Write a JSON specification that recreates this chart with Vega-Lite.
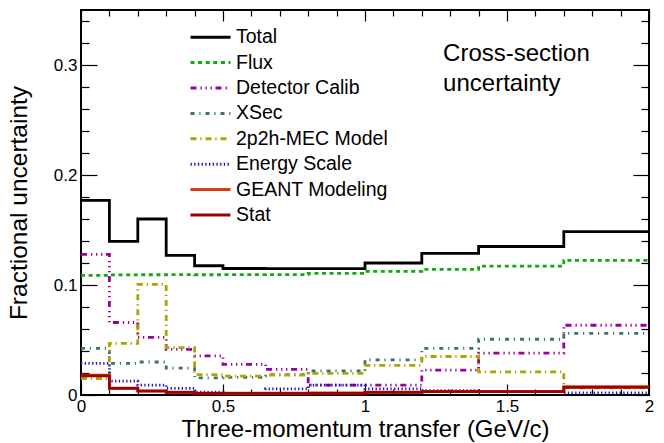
{
  "$schema": "https://vega.github.io/schema/vega-lite/v6.json",
  "width": 568,
  "height": 385,
  "autosize": "none",
  "padding": {"left": 81, "top": 10, "right": 15, "bottom": 48},
  "background": "white",
  "config": {
    "font": "Liberation Sans",
    "view": {"stroke": "black", "strokeWidth": 2},
    "axis": {"grid": false, "domain": false, "tickColor": "black", "tickWidth": 1.2, "labelColor": "black", "titleColor": "black", "labelFont": "Liberation Sans", "titleFont": "Liberation Sans", "titleFontWeight": "normal", "labelFlush": false, "labelOverlap": false}
  },
  "datasets": {
    "unc": [
      {"series": "Total", "lo": 0.0, "hi": 0.1, "v": 0.177},
      {"series": "Total", "lo": 0.1, "hi": 0.2, "v": 0.1396},
      {"series": "Total", "lo": 0.2, "hi": 0.3, "v": 0.160},
      {"series": "Total", "lo": 0.3, "hi": 0.4, "v": 0.127},
      {"series": "Total", "lo": 0.4, "hi": 0.5, "v": 0.1175},
      {"series": "Total", "lo": 0.5, "hi": 0.65, "v": 0.115},
      {"series": "Total", "lo": 0.65, "hi": 0.8, "v": 0.1148},
      {"series": "Total", "lo": 0.8, "hi": 1.0, "v": 0.1148},
      {"series": "Total", "lo": 1.0, "hi": 1.2, "v": 0.120},
      {"series": "Total", "lo": 1.2, "hi": 1.4, "v": 0.1287},
      {"series": "Total", "lo": 1.4, "hi": 1.7, "v": 0.135},
      {"series": "Total", "lo": 1.7, "hi": 2.0, "v": 0.1486},
      {"series": "Flux", "lo": 0.0, "hi": 0.1, "v": 0.1088},
      {"series": "Flux", "lo": 0.1, "hi": 0.2, "v": 0.1092},
      {"series": "Flux", "lo": 0.2, "hi": 0.3, "v": 0.1093},
      {"series": "Flux", "lo": 0.3, "hi": 0.4, "v": 0.1094},
      {"series": "Flux", "lo": 0.4, "hi": 0.5, "v": 0.1093},
      {"series": "Flux", "lo": 0.5, "hi": 0.65, "v": 0.1094},
      {"series": "Flux", "lo": 0.65, "hi": 0.8, "v": 0.1095},
      {"series": "Flux", "lo": 0.8, "hi": 1.0, "v": 0.1106},
      {"series": "Flux", "lo": 1.0, "hi": 1.2, "v": 0.1124},
      {"series": "Flux", "lo": 1.2, "hi": 1.4, "v": 0.1142},
      {"series": "Flux", "lo": 1.4, "hi": 1.7, "v": 0.1172},
      {"series": "Flux", "lo": 1.7, "hi": 2.0, "v": 0.1224},
      {"series": "Detector Calib", "lo": 0.0, "hi": 0.1, "v": 0.1278},
      {"series": "Detector Calib", "lo": 0.1, "hi": 0.2, "v": 0.0659},
      {"series": "Detector Calib", "lo": 0.2, "hi": 0.3, "v": 0.0523},
      {"series": "Detector Calib", "lo": 0.3, "hi": 0.4, "v": 0.0415},
      {"series": "Detector Calib", "lo": 0.4, "hi": 0.5, "v": 0.0356},
      {"series": "Detector Calib", "lo": 0.5, "hi": 0.65, "v": 0.0278},
      {"series": "Detector Calib", "lo": 0.65, "hi": 0.8, "v": 0.0233},
      {"series": "Detector Calib", "lo": 0.8, "hi": 1.0, "v": 0.009},
      {"series": "Detector Calib", "lo": 1.0, "hi": 1.2, "v": 0.009},
      {"series": "Detector Calib", "lo": 1.2, "hi": 1.4, "v": 0.0227},
      {"series": "Detector Calib", "lo": 1.4, "hi": 1.7, "v": 0.038},
      {"series": "Detector Calib", "lo": 1.7, "hi": 2.0, "v": 0.0634},
      {"series": "XSec", "lo": 0.0, "hi": 0.1, "v": 0.0424},
      {"series": "XSec", "lo": 0.1, "hi": 0.2, "v": 0.0288},
      {"series": "XSec", "lo": 0.2, "hi": 0.3, "v": 0.030},
      {"series": "XSec", "lo": 0.3, "hi": 0.4, "v": 0.0245},
      {"series": "XSec", "lo": 0.4, "hi": 0.5, "v": 0.0155},
      {"series": "XSec", "lo": 0.5, "hi": 0.65, "v": 0.016},
      {"series": "XSec", "lo": 0.65, "hi": 0.8, "v": 0.0185},
      {"series": "XSec", "lo": 0.8, "hi": 1.0, "v": 0.022},
      {"series": "XSec", "lo": 1.0, "hi": 1.2, "v": 0.032},
      {"series": "XSec", "lo": 1.2, "hi": 1.4, "v": 0.0423},
      {"series": "XSec", "lo": 1.4, "hi": 1.7, "v": 0.0507},
      {"series": "XSec", "lo": 1.7, "hi": 2.0, "v": 0.056},
      {"series": "2p2h-MEC Model", "lo": 0.0, "hi": 0.1, "v": 0.0150},
      {"series": "2p2h-MEC Model", "lo": 0.1, "hi": 0.2, "v": 0.047},
      {"series": "2p2h-MEC Model", "lo": 0.2, "hi": 0.3, "v": 0.1006},
      {"series": "2p2h-MEC Model", "lo": 0.3, "hi": 0.4, "v": 0.043},
      {"series": "2p2h-MEC Model", "lo": 0.4, "hi": 0.5, "v": 0.0185},
      {"series": "2p2h-MEC Model", "lo": 0.5, "hi": 0.65, "v": 0.0172},
      {"series": "2p2h-MEC Model", "lo": 0.65, "hi": 0.8, "v": 0.018},
      {"series": "2p2h-MEC Model", "lo": 0.8, "hi": 1.0, "v": 0.0197},
      {"series": "2p2h-MEC Model", "lo": 1.0, "hi": 1.2, "v": 0.027},
      {"series": "2p2h-MEC Model", "lo": 1.2, "hi": 1.4, "v": 0.035},
      {"series": "2p2h-MEC Model", "lo": 1.4, "hi": 1.7, "v": 0.021},
      {"series": "2p2h-MEC Model", "lo": 1.7, "hi": 2.0, "v": 0.0066},
      {"series": "Energy Scale", "lo": 0.0, "hi": 0.1, "v": 0.0288},
      {"series": "Energy Scale", "lo": 0.1, "hi": 0.2, "v": 0.0127},
      {"series": "Energy Scale", "lo": 0.2, "hi": 0.3, "v": 0.009},
      {"series": "Energy Scale", "lo": 0.3, "hi": 0.4, "v": 0.006},
      {"series": "Energy Scale", "lo": 0.4, "hi": 0.5, "v": 0.0025},
      {"series": "Energy Scale", "lo": 0.5, "hi": 0.65, "v": 0.0015},
      {"series": "Energy Scale", "lo": 0.65, "hi": 0.8, "v": 0.0055},
      {"series": "Energy Scale", "lo": 0.8, "hi": 1.0, "v": 0.009},
      {"series": "Energy Scale", "lo": 1.0, "hi": 1.2, "v": 0.0055},
      {"series": "Energy Scale", "lo": 1.2, "hi": 1.4, "v": 0.004},
      {"series": "Energy Scale", "lo": 1.4, "hi": 1.7, "v": 0.003},
      {"series": "Energy Scale", "lo": 1.7, "hi": 2.0, "v": 0.002},
      {"series": "GEANT Modeling", "lo": 0.0, "hi": 0.1, "v": 0.018},
      {"series": "GEANT Modeling", "lo": 0.1, "hi": 0.2, "v": 0.0062},
      {"series": "GEANT Modeling", "lo": 0.2, "hi": 0.3, "v": 0.0038},
      {"series": "GEANT Modeling", "lo": 0.3, "hi": 0.4, "v": 0.0026},
      {"series": "GEANT Modeling", "lo": 0.4, "hi": 0.5, "v": 0.0017},
      {"series": "GEANT Modeling", "lo": 0.5, "hi": 0.65, "v": 0.0016},
      {"series": "GEANT Modeling", "lo": 0.65, "hi": 0.8, "v": 0.0016},
      {"series": "GEANT Modeling", "lo": 0.8, "hi": 1.0, "v": 0.0018},
      {"series": "GEANT Modeling", "lo": 1.0, "hi": 1.2, "v": 0.0027},
      {"series": "GEANT Modeling", "lo": 1.2, "hi": 1.4, "v": 0.0032},
      {"series": "GEANT Modeling", "lo": 1.4, "hi": 1.7, "v": 0.0032},
      {"series": "GEANT Modeling", "lo": 1.7, "hi": 2.0, "v": 0.0075},
      {"series": "Stat", "lo": 0.0, "hi": 0.1, "v": 0.0173},
      {"series": "Stat", "lo": 0.1, "hi": 0.2, "v": 0.006},
      {"series": "Stat", "lo": 0.2, "hi": 0.3, "v": 0.0036},
      {"series": "Stat", "lo": 0.3, "hi": 0.4, "v": 0.0024},
      {"series": "Stat", "lo": 0.4, "hi": 0.5, "v": 0.0015},
      {"series": "Stat", "lo": 0.5, "hi": 0.65, "v": 0.0015},
      {"series": "Stat", "lo": 0.65, "hi": 0.8, "v": 0.0015},
      {"series": "Stat", "lo": 0.8, "hi": 1.0, "v": 0.0015},
      {"series": "Stat", "lo": 1.0, "hi": 1.2, "v": 0.0024},
      {"series": "Stat", "lo": 1.2, "hi": 1.4, "v": 0.003},
      {"series": "Stat", "lo": 1.4, "hi": 1.7, "v": 0.003},
      {"series": "Stat", "lo": 1.7, "hi": 2.0, "v": 0.007}
    ],
    "note": [
      {"x": 1.275, "y": 0.304, "label": "Cross-section\nuncertainty"}
    ]
  },
  "layer": [
    {
      "data": {"name": "unc"},
      "transform": [{"fold": ["lo", "hi"], "as": ["edge", "x"]}],
      "mark": {"type": "line", "strokeWidth": 2.8, "interpolate": "linear", "clip": true},
      "encoding": {
        "x": {
          "field": "x", "type": "quantitative",
          "scale": {"domain": [0, 2], "nice": false, "zero": false},
          "axis": {
            "orient": "bottom",
            "values": [0,0.1,0.2,0.3,0.4,0.5,0.6,0.7,0.8,0.9,1,1.1,1.2,1.3,1.4,1.5,1.6,1.7,1.8,1.9,2],
            "format": ".1~f",
            "labelExpr": "abs(datum.value*2-round(datum.value*2))<1e-6 ? datum.label : ''",
            "tickSize": {"condition": {"test": "abs(datum.value*2-round(datum.value*2))<1e-6", "value": -11}, "value": -6},
            "labelPadding": 14,
            "labelFontSize": 17,
            "title": "Three-momentum transfer (GeV/c)",
            "titleFontSize": 24,
            "titleBaseline": "alphabetic",
            "titleY": 41.5
          }
        },
        "y": {
          "field": "v", "type": "quantitative",
          "scale": {"domain": [0, 0.35], "nice": false, "zero": false},
          "axis": {
            "orient": "left",
            "values": [0,0.02,0.04,0.06,0.08,0.1,0.12,0.14,0.16,0.18,0.2,0.22,0.24,0.26,0.28,0.3,0.32,0.34],
            "format": ".2~f",
            "labelExpr": "abs(datum.value*10-round(datum.value*10))<1e-6 ? datum.label : ''",
            "tickSize": {"condition": {"test": "abs(datum.value*10-round(datum.value*10))<1e-6", "value": -16}, "value": -8},
            "labelPadding": 20,
            "labelFontSize": 17,
            "title": "Fractional uncertainty",
            "titleFontSize": 24.5,
            "titleBaseline": "alphabetic",
            "titleAngle": 270,
            "titleX": -55
          }
        },
        "color": {
          "field": "series", "type": "nominal",
          "scale": {
            "domain": ["Total", "Flux", "Detector Calib", "XSec", "2p2h-MEC Model", "Energy Scale", "GEANT Modeling", "Stat"],
            "range": ["#000000", "#11a811", "#9a009a", "#3d7272", "#a8a800", "#1414c8", "#dd3a0a", "#a00000"]
          },
          "legend": {
            "orient": "none", "legendX": 118, "legendY": 15.7, "title": null, "padding": 0,
            "symbolType": "M-2,0H2", "symbolSize": 400, "symbolStrokeWidth": 3,
            "labelFontSize": 19.5, "labelFont": "Liberation Sans", "labelColor": "black",
            "labelOffset": 14, "rowPadding": 4.4, "labelLimit": 300
          }
        },
        "strokeDash": {
          "field": "series", "type": "nominal",
          "scale": {
            "domain": ["Total", "Flux", "Detector Calib", "XSec", "2p2h-MEC Model", "Energy Scale", "GEANT Modeling", "Stat"],
            "range": [[1, 0], [4, 3.6], [6, 4, 1.3, 3.7, 1.3, 3.7, 1.3, 3.7], [4, 4.8, 1.2, 5], [6, 3.8, 1.3, 3.9], [1.3, 2.4], [1, 0], [1, 0]]
          },
          "legend": {
            "orient": "none", "legendX": 118, "legendY": 15.7, "title": null, "padding": 0,
            "symbolType": "M-2,0H2", "symbolSize": 400, "symbolStrokeWidth": 3,
            "labelFontSize": 19.5, "labelFont": "Liberation Sans", "labelColor": "black",
            "labelOffset": 14, "rowPadding": 4.4, "labelLimit": 300
          }
        },
        "order": [{"field": "x", "type": "quantitative"}, {"field": "edge", "type": "nominal"}]
      }
    },
    {
      "data": {"name": "note"},
      "mark": {"type": "text", "align": "left", "baseline": "alphabetic", "fontSize": 24, "lineHeight": 30, "lineBreak": "\n", "color": "black", "font": "Liberation Sans"},
      "encoding": {
        "x": {
          "field": "x", "type": "quantitative",
          "scale": {"domain": [0, 2], "nice": false, "zero": false},
          "axis": {
            "orient": "top",
            "values": [0,0.1,0.2,0.3,0.4,0.5,0.6,0.7,0.8,0.9,1,1.1,1.2,1.3,1.4,1.5,1.6,1.7,1.8,1.9,2],
            "labels": false,
            "tickSize": {"condition": {"test": "abs(datum.value*2-round(datum.value*2))<1e-6", "value": -11}, "value": -6},
            "title": null
          }
        },
        "y": {
          "field": "y", "type": "quantitative",
          "scale": {"domain": [0, 0.35], "nice": false, "zero": false},
          "axis": {
            "orient": "right",
            "values": [0,0.02,0.04,0.06,0.08,0.1,0.12,0.14,0.16,0.18,0.2,0.22,0.24,0.26,0.28,0.3,0.32,0.34],
            "labels": false,
            "tickSize": {"condition": {"test": "abs(datum.value*10-round(datum.value*10))<1e-6", "value": -16}, "value": -8},
            "title": null
          }
        },
        "text": {"field": "label", "type": "nominal"}
      }
    }
  ],
  "resolve": {"axis": {"x": "independent", "y": "independent"}}
}
